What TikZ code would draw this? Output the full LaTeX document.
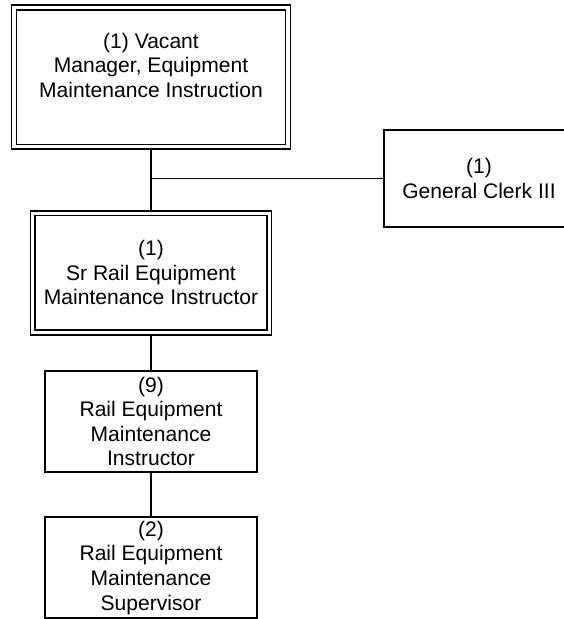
\documentclass[tikz,border=0pt]{standalone}
\usepackage{fontspec}
\setmainfont{Liberation Sans}
\begin{document}
\begin{tikzpicture}[x=0.75pt, y=-0.75pt,
    box/.style={draw, line width=1.3pt, align=center, inner sep=0pt,
        font=\fontsize{15.8}{18.4}\selectfont},
    dbox/.style={box, line width=1.1pt, double, double distance=2.4pt, outer sep=2.3pt},
    link/.style={line width=1.2pt}]
    % Page frame
    \useasboundingbox (0,0) rectangle (564,619);

    % Manager (vacant)
    \node[dbox, minimum width=205.5pt, minimum height=104.5pt] (mgr) at (151,77.2)
        {(1) Vacant\\Manager, Equipment\\Maintenance Instruction\\\mbox{}};

    % Clerk
    \node[box, minimum width=142pt, minimum height=72.5pt] (clerk) at (479,178.3)
        {(1)\\General Clerk III};

    % Senior instructor
    \node[dbox, minimum width=177.5pt, minimum height=89.4pt] (srinst) at (151,272.9)
        {(1)\\Sr Rail Equipment\\Maintenance Instructor};

    % Instructors
    \node[box, minimum width=158.5pt, minimum height=75.7pt] (inst) at (151,421.5)
        {(9)\\Rail Equipment\\Maintenance\\Instructor};

    % Supervisors
    \node[box, minimum width=158.5pt, minimum height=75.7pt] (sup) at (151,567.8)
        {(2)\\Rail Equipment\\Maintenance\\Supervisor};

    % Reporting lines
    \draw[link] (mgr) -- (srinst);
    \draw[link] (clerk.west) -| (mgr.south);
    \draw[link] (srinst) -- (inst);
    \draw[link] (inst) -- (sup);
\end{tikzpicture}
\end{document}
